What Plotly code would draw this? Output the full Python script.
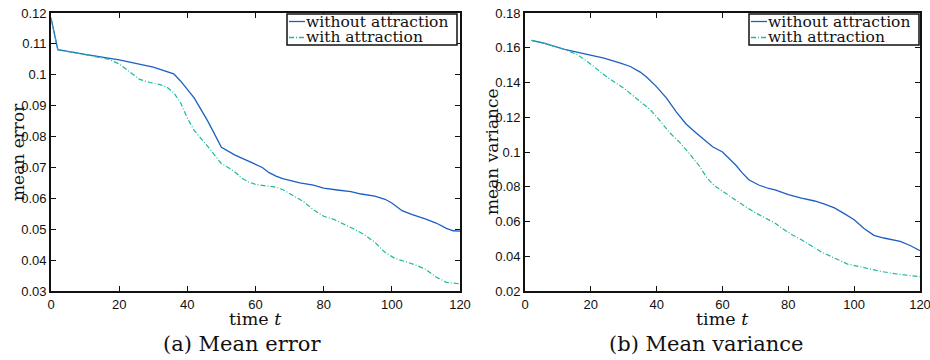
import plotly.graph_objects as go

# ---------------- data ----------------
err_t_without = [0, 2, 10, 20, 30, 34, 36, 38, 42, 46, 50, 54, 58, 60, 62, 64, 66, 68,
                 73, 77, 80, 84, 88, 91, 95, 98, 100, 103, 106, 110, 113, 116, 118, 120]
err_without = [0.1184, 0.1081, 0.1066, 0.1048, 0.1025, 0.1012, 0.1003, 0.0980, 0.0925,
               0.0850, 0.0765, 0.0740, 0.0720, 0.0712, 0.0700, 0.0683, 0.0672, 0.0664,
               0.0650, 0.0643, 0.0633, 0.0627, 0.0622, 0.0614, 0.0607, 0.0597, 0.0585,
               0.0560, 0.0547, 0.0533, 0.0520, 0.0503, 0.0495, 0.0494]

err_t_with = [0, 2, 10, 17, 20, 23, 26, 29, 32, 34, 36, 38, 40, 42, 44, 46, 48, 50, 52,
              54, 56, 58, 60, 63, 66, 68, 70, 74, 77, 80, 83, 86, 89, 92, 95, 98, 101,
              104, 107, 110, 113, 116, 120]
err_with = [0.1184, 0.1081, 0.1065, 0.1050, 0.1035, 0.1010, 0.0985, 0.0975, 0.0968,
            0.0960, 0.0942, 0.0910, 0.0860, 0.0820, 0.0795, 0.0768, 0.0740, 0.0712,
            0.0700, 0.0685, 0.0665, 0.0653, 0.0645, 0.0640, 0.0636, 0.0628, 0.0616,
            0.0590, 0.0563, 0.0542, 0.0532, 0.0517, 0.0500, 0.0482, 0.0458, 0.0425,
            0.0405, 0.0395, 0.0384, 0.0370, 0.0345, 0.0328, 0.0323]

var_t_without = [2, 6, 12, 18, 24, 29, 32, 35, 37, 40, 43, 46, 49, 52, 55, 57, 60, 62,
                 64, 66, 68, 71, 74, 76, 80, 84, 88, 91, 94, 97, 100, 103, 106, 109,
                 114, 117, 120]
var_without = [0.1642, 0.1625, 0.1590, 0.1565, 0.1540, 0.1512, 0.1492, 0.1460, 0.1430,
               0.1375, 0.1310, 0.1230, 0.1160, 0.1110, 0.1060, 0.1030, 0.1000, 0.0965,
               0.0925, 0.0880, 0.0840, 0.0810, 0.0790, 0.0782, 0.0755, 0.0735, 0.0718,
               0.0700, 0.0678, 0.0645, 0.0610, 0.0560, 0.0520, 0.0505, 0.0485, 0.0462,
               0.0432]

var_t_with = [2, 6, 12, 16, 20, 25, 30, 34, 38, 41, 44, 47, 50, 53, 55.5, 58, 61, 64,
              67, 70, 73, 76, 78, 81, 84, 87, 90, 94, 98, 103, 108, 113, 120]
var_with = [0.1642, 0.1625, 0.1590, 0.1560, 0.1505, 0.1430, 0.1367, 0.1305, 0.1245,
            0.1180, 0.1110, 0.1055, 0.0990, 0.0918, 0.0845, 0.0800, 0.0760, 0.0722,
            0.0685, 0.0650, 0.0622, 0.0590, 0.0562, 0.0525, 0.0495, 0.0462, 0.0425,
            0.0390, 0.0355, 0.0335, 0.0313, 0.0298, 0.0282]

x_ticks = [0, 20, 40, 60, 80, 100, 120]
x_ticktext = ["0", "20", "40", "60", "80", "100", "120"]
err_ticks = [0.03, 0.04, 0.05, 0.06, 0.07, 0.08, 0.09, 0.10, 0.11, 0.12]
err_ticktext = ["0.03", "0.04", "0.05", "0.06", "0.07", "0.08", "0.09", "0.1", "0.11", "0.12"]
var_ticks = [0.02, 0.04, 0.06, 0.08, 0.10, 0.12, 0.14, 0.16, 0.18]
var_ticktext = ["0.02", "0.04", "0.06", "0.08", "0.1", "0.12", "0.14", "0.16", "0.18"]

series_names = ["without attraction", "with attraction"]
captions = ["(a) Mean error", "(b) Mean variance"]
y_titles = ["mean error", "mean variance"]
x_title = "time <i>t</i>"

# ---------------- styling ----------------
W, H = 930, 360
BLUE = "#1c5fc2"
GREEN = "#1fb89e"
INK = "#111111"
SERIF = "DejaVu Serif"
SANS = "Liberation Sans"
DASHDOT = "5px,2px,1px,2px"

def px(x):
    return x / W

def py(y):
    return 1 - y / H

fig = go.Figure()
fig.add_trace(go.Scatter(x=err_t_without, y=err_without, mode="lines", name=series_names[0],
                         line=dict(color=BLUE, width=1.3), xaxis="x", yaxis="y", showlegend=False))
fig.add_trace(go.Scatter(x=err_t_with, y=err_with, mode="lines", name=series_names[1],
                         line=dict(color=GREEN, width=1.2, dash=DASHDOT),
                         xaxis="x", yaxis="y", showlegend=False))
fig.add_trace(go.Scatter(x=var_t_without, y=var_without, mode="lines", name=series_names[0],
                         line=dict(color=BLUE, width=1.3), xaxis="x2", yaxis="y2", showlegend=False))
fig.add_trace(go.Scatter(x=var_t_with, y=var_with, mode="lines", name=series_names[1],
                         line=dict(color=GREEN, width=1.2, dash=DASHDOT),
                         xaxis="x2", yaxis="y2", showlegend=False))

y_dom = [py(291), py(13)]
axis_common = dict(showline=True, linecolor=INK, linewidth=1.8, mirror="ticks",
                   ticks="inside", ticklen=5, tickcolor=INK, tickwidth=1,
                   showgrid=False, zeroline=False, automargin=False,
                   ticklabeloverflow="allow",
                   tickfont=dict(family=SANS, size=13, color=INK))

fig.update_layout(
    width=W, height=H,
    margin=dict(l=0, r=0, t=0, b=0, autoexpand=False),
    paper_bgcolor="white", plot_bgcolor="white",
    showlegend=False,
    xaxis=dict(domain=[px(51), px(460)], range=[0, 120], anchor="y",
               tickvals=x_ticks, ticktext=x_ticktext, **axis_common),
    yaxis=dict(domain=y_dom, range=[0.03, 0.12], anchor="x",
               tickvals=err_ticks, ticktext=err_ticktext, **axis_common),
    xaxis2=dict(domain=[px(525), px(920)], range=[0, 120], anchor="y2",
                tickvals=x_ticks, ticktext=x_ticktext, **axis_common),
    yaxis2=dict(domain=y_dom, range=[0.02, 0.18], anchor="x2",
                tickvals=var_ticks, ticktext=var_ticktext, **axis_common),
)

annotations = []
shapes = []

# axis titles and captions
for i, (cx_plot, cx_ytitle, cx_cap) in enumerate([(255.5, 18, 242), (722, 492, 706)]):
    annotations.append(dict(text=x_title, x=px(cx_plot), y=py(318), xref="paper", yref="paper",
                            xanchor="center", yanchor="middle", showarrow=False, height=13,
                            font=dict(family=SERIF, size=17.5, color=INK)))
    annotations.append(dict(text=y_titles[i], x=px(cx_ytitle), y=py(152), xref="paper", yref="paper",
                            xanchor="center", yanchor="middle", textangle=-90, showarrow=False,
                            font=dict(family=SERIF, size=17, color=INK)))
    annotations.append(dict(text=captions[i], x=px(cx_cap), y=py(344), xref="paper", yref="paper",
                            xanchor="center", yanchor="middle", showarrow=False,
                            font=dict(family=SERIF, size=21, color=INK)))

# legends (box, line samples, labels)
for box_left, box_right in [(287, 457), (749, 919)]:
    shapes.append(dict(type="rect", xref="paper", yref="paper",
                       x0=px(box_left), x1=px(box_right), y0=py(45), y1=py(14),
                       line=dict(color=INK, width=1.5), fillcolor="white", layer="above"))
    for j, (color, dash, yc) in enumerate([(BLUE, "solid", 21.5), (GREEN, DASHDOT, 37.5)]):
        shapes.append(dict(type="line", xref="paper", yref="paper",
                           x0=px(box_left + 2), x1=px(box_left + 18), y0=py(yc), y1=py(yc),
                           line=dict(color=color, width=1.3, dash=dash), layer="above"))
        annotations.append(dict(text=series_names[j], x=px(box_left + 17), y=py(yc - 0.5),
                                xref="paper", yref="paper", xanchor="left", yanchor="middle",
                                showarrow=False, height=13,
                                font=dict(family=SERIF, size=15.5, color=INK)))

fig.update_layout(annotations=annotations, shapes=shapes)

fig.write_html("out.html", config={"displayModeBar": False},
               post_script="document.body.style.margin='0px';")
